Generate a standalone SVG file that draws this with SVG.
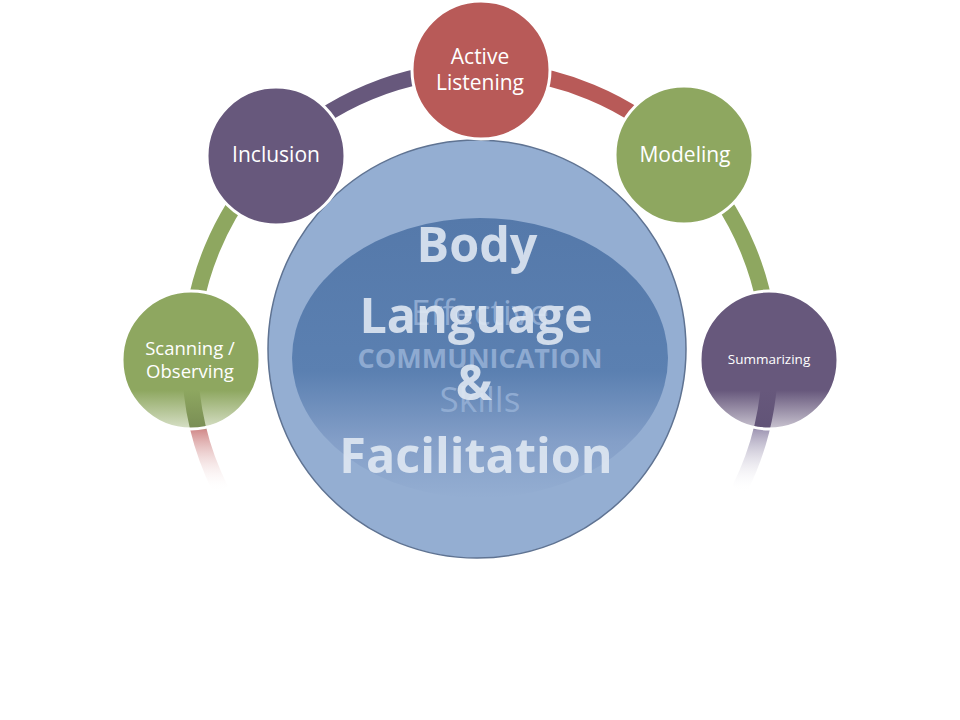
<svg xmlns="http://www.w3.org/2000/svg" width="960" height="720" viewBox="0 0 960 720">
<style>
  .ring{fill:none;stroke-width:16;stroke-linecap:butt}
  .node{stroke:#FFFFFF;stroke-width:3}
  .lbl{font-family:"Open Sans","Liberation Sans",sans-serif;fill:#FFFFFF;text-anchor:middle}
  .back{font-family:"Open Sans","Liberation Sans",sans-serif;fill:#94AFD5;text-anchor:middle;opacity:0.9}
  .front{font-family:"Open Sans","Liberation Sans",sans-serif;font-weight:bold;font-size:48.5px;fill:#E2EAF4;text-anchor:middle;opacity:0.88}
</style>
<defs>
  <linearGradient id="tailRed" gradientUnits="userSpaceOnUse" x1="0" y1="360" x2="0" y2="492">
    <stop offset="0" stop-color="#6E7F4E"/>
    <stop offset="0.51" stop-color="#6E7F4E"/>
    <stop offset="0.53" stop-color="#D28C8C"/>
    <stop offset="1" stop-color="#FFFFFF" stop-opacity="0"/>
  </linearGradient>
  <linearGradient id="tailPurple" gradientUnits="userSpaceOnUse" x1="0" y1="360" x2="0" y2="492">
    <stop offset="0" stop-color="#5E5174"/>
    <stop offset="0.51" stop-color="#5E5174"/>
    <stop offset="0.53" stop-color="#A199B5"/>
    <stop offset="1" stop-color="#FFFFFF" stop-opacity="0"/>
  </linearGradient>
  <linearGradient id="fadeGreen" x1="0" y1="0" x2="0" y2="1">
    <stop offset="0" stop-color="#8EA760"/>
    <stop offset="0.72" stop-color="#8EA760"/>
    <stop offset="1" stop-color="#8EA760" stop-opacity="0.35"/>
  </linearGradient>
  <linearGradient id="fadePurple" x1="0" y1="0" x2="0" y2="1">
    <stop offset="0" stop-color="#67587C"/>
    <stop offset="0.72" stop-color="#67587C"/>
    <stop offset="1" stop-color="#67587C" stop-opacity="0.35"/>
  </linearGradient>
  <linearGradient id="ellFill" x1="0" y1="0" x2="0" y2="1">
    <stop offset="0" stop-color="#5579AA"/>
    <stop offset="0.55" stop-color="#5B80B1"/>
    <stop offset="0.8" stop-color="#849FC8"/>
    <stop offset="1" stop-color="#94AED2"/>
  </linearGradient>
</defs>

<g id="connectors">
  <path class="ring" stroke="#8EA760" d="M190,360 A290,290 0 0 1 274.94,154.94"/>
  <path class="ring" stroke="#67587C" d="M274.94,154.94 A290,290 0 0 1 480,70"/>
  <path class="ring" stroke="#B85A58" d="M480,70 A290,290 0 0 1 685.06,154.94"/>
  <path class="ring" stroke="#8EA760" d="M685.06,154.94 A290,290 0 0 1 770,360"/>
  <path class="ring" stroke="url(#tailRed)" d="M190,360 A290,290 0 0 0 220.7,489.8"/>
  <path class="ring" stroke="url(#tailPurple)" d="M770,360 A290,290 0 0 1 739.3,489.8"/>
</g>

<g id="node-scanning">
  <circle class="node" cx="191" cy="360" r="69" fill="url(#fadeGreen)"/>
  <text class="lbl" font-size="18.5" fill="#F2F5EA"><tspan x="190" y="355">Scanning /</tspan><tspan x="190" y="378">Observing</tspan></text>
</g>

<g id="node-summarizing">
  <circle class="node" cx="769" cy="360" r="69" fill="url(#fadePurple)"/>
  <text class="lbl" x="769" y="364" font-size="13.5">Summarizing</text>
</g>

<g id="node-center">
  <circle cx="477" cy="349" r="209" fill="#94AED2" stroke="#5F7392" stroke-width="1.5"/>
  <ellipse cx="480" cy="358" rx="188" ry="140" fill="url(#ellFill)"/>
  <text class="back" x="480" y="325" font-size="35">Effective</text>
  <text class="back" x="480" y="368" font-size="27" font-weight="bold">COMMUNICATION</text>
  <text class="back" x="480" y="412" font-size="35">Skills</text>
  <text class="front" x="477" y="262">Body</text>
  <text class="front" x="476" y="333">Language</text>
  <text class="front" x="474" y="400">&amp;</text>
  <text class="front" x="476" y="473">Facilitation</text>
</g>

<g id="node-active-listening">
  <circle class="node" cx="481" cy="70" r="69" fill="#B85A58"/>
  <text class="lbl" font-size="21"><tspan x="480" y="64">Active</tspan><tspan x="480" y="90">Listening</tspan></text>
</g>

<g id="node-inclusion">
  <circle class="node" cx="276" cy="156" r="69" fill="#67587C"/>
  <text class="lbl" x="276" y="162" font-size="21">Inclusion</text>
</g>

<g id="node-modeling">
  <circle class="node" cx="684" cy="155" r="69" fill="#8EA760"/>
  <text class="lbl" x="685" y="162" font-size="21">Modeling</text>
</g>
</svg>
